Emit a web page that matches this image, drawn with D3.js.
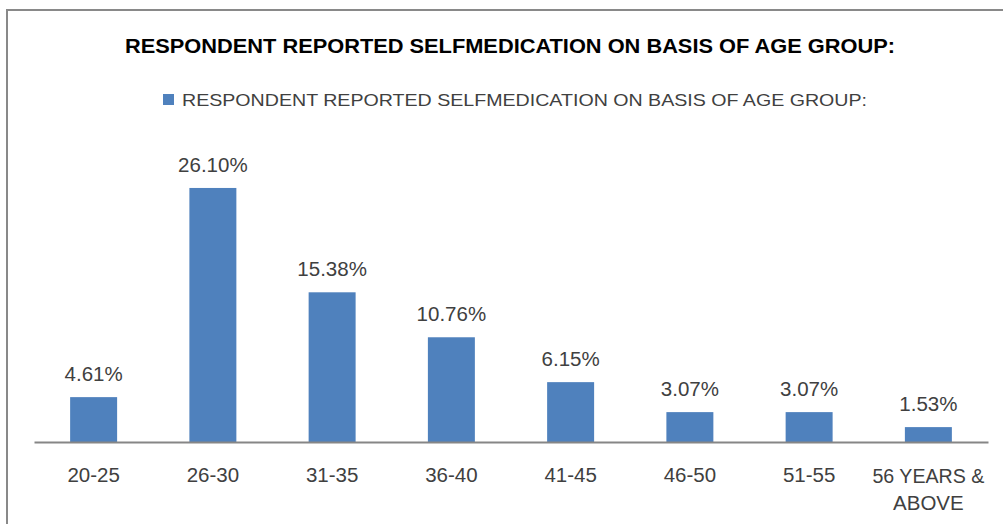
<!DOCTYPE html>
<html><head><meta charset="utf-8">
<script src="https://cdn.jsdelivr.net/npm/d3@7/dist/d3.min.js"></script>
<style>body{margin:0;background:#fff;}svg{display:block;font-family:"Liberation Sans",Arial,sans-serif;}</style>
</head><body>
<svg id="c" width="1003" height="524"></svg>
<script>
const titleText = "RESPONDENT REPORTED SELFMEDICATION ON BASIS OF AGE GROUP:";
const seriesName = "RESPONDENT REPORTED SELFMEDICATION ON BASIS OF AGE GROUP:";
const categories = ["20-25","26-30","31-35","36-40","41-45","46-50","51-55","56 YEARS & ABOVE"];
const values = [4.61, 26.10, 15.38, 10.76, 6.15, 3.07, 3.07, 1.53];
const valueLabels = ["4.61%","26.10%","15.38%","10.76%","6.15%","3.07%","3.07%","1.53%"];

const svg = d3.select("#c");
const barColor = "#4F81BD";

svg.append("rect").attr("x",7).attr("y",10).attr("width",1020).attr("height",540)
  .attr("fill","#fff").attr("stroke","#898989").attr("stroke-width",2);

svg.append("text").attr("x",510).attr("y",53).attr("text-anchor","middle")
  .attr("font-weight","bold").attr("font-size",21).attr("fill","#000")
  .attr("textLength",770).attr("lengthAdjust","spacingAndGlyphs").text(titleText);

svg.append("rect").attr("x",163).attr("y",94).attr("width",11).attr("height",11).attr("fill",barColor);
svg.append("text").attr("x",182).attr("y",106).attr("font-size",17).attr("fill","#404040")
  .attr("textLength",685).attr("lengthAdjust","spacingAndGlyphs").text(seriesName);

const x = d3.scaleBand().domain(categories).range([34,988]).paddingInner(0.606).paddingOuter(0.303);
const y = d3.scaleLinear().domain([0,30]).range([442,150]);

svg.selectAll("rect.bar").data(values).join("rect").attr("class","bar")
  .attr("x",(d,i)=>x(categories[i])).attr("width",x.bandwidth())
  .attr("y",d=>y(d)).attr("height",d=>y(0)-y(d)).attr("fill",barColor);

svg.selectAll("text.val").data(values).join("text").attr("class","val")
  .attr("x",(d,i)=>x(categories[i])+x.bandwidth()/2).attr("y",d=>y(d)-16)
  .attr("text-anchor","middle").attr("font-size",20.5).attr("fill","#404040")
  .text((d,i)=>valueLabels[i]);

const ax = svg.append("g").attr("transform","translate(0,442)")
  .call(d3.axisBottom(x).tickSize(0).tickSizeOuter(0).tickPadding(0));
ax.select(".domain").attr("stroke","#868686").attr("stroke-width",2);
ax.selectAll(".tick text").attr("font-size",20.5).attr("fill","#404040")
  .attr("font-family","Liberation Sans, Arial, sans-serif").attr("dy",null).attr("y",40)
  .each(function(d){
    const t = d3.select(this);
    if (d.length > 10) {
      const idx = d.indexOf("&")+1;
      const l1 = d.slice(0,idx), l2 = d.slice(idx).trim();
      t.text(null);
      t.append("tspan").attr("x",0).attr("y",41).attr("textLength",112).attr("lengthAdjust","spacingAndGlyphs").text(l1);
      t.append("tspan").attr("x",0).attr("y",68).text(l2);
    }
  });
</script>
</body></html>
